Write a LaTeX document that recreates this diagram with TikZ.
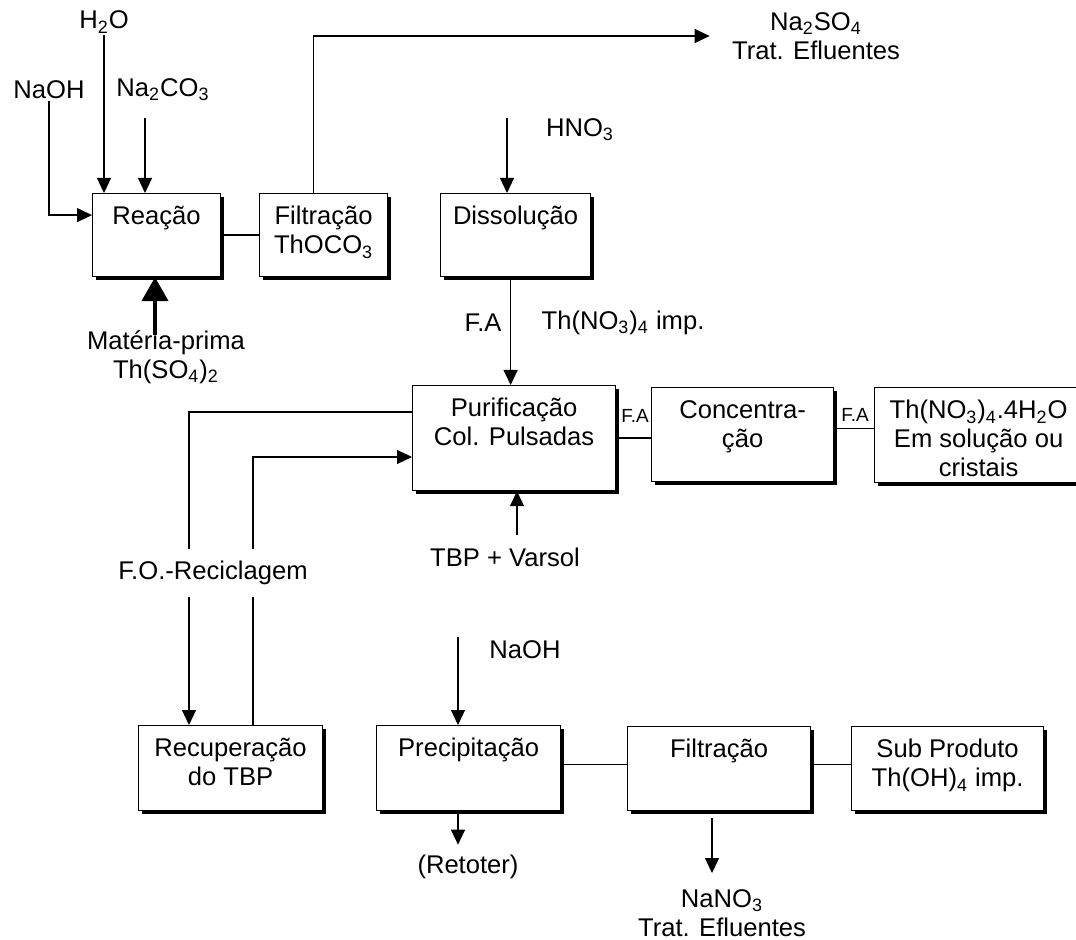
\documentclass[tikz,border=0pt]{standalone}
\usepackage{fontspec}
\setmainfont{Liberation Sans}
\usetikzlibrary{calc, positioning, arrows.meta, shadows}

\tikzset{
  txt/.style={font=\fontsize{12.8}{14.5}\selectfont, inner sep=1pt, align=center},
  small/.style={font=\fontsize{9.5}{10}\selectfont, inner sep=1pt},
  proc/.style={draw, fill=white, line width=0.6pt, inner sep=0pt, anchor=north west,
    drop shadow={shadow xshift=1.6pt, shadow yshift=-1.6pt, opacity=1, fill=black}},
  boxtxt/.style={txt, anchor=north, yshift=-5.5pt},
  flow/.style={line width=0.6pt, -{Triangle[length=7.5pt, width=7pt]}},
  bigflow/.style={line width=2.2pt, -{Triangle[length=12pt, width=13pt]}},
  link/.style={line width=0.6pt},
}

\begin{document}
\begin{tikzpicture}[x=0.5pt, y=-0.5pt]
\useasboundingbox (0,0) rectangle (1076,940);

% process boxes
\node[proc, minimum width=64pt, minimum height=41.5pt, label={[boxtxt]north:Reação}] (reacao) at (92,193) {};
\node[proc, minimum width=64pt, minimum height=41.5pt, label={[boxtxt]north:Filtração\\ThOCO\textsubscript{3}}] (filtr1) at (259,193) {};
\node[proc, minimum width=75pt, minimum height=41.5pt, label={[boxtxt]north:Dissolução}] (dissol) at (440,193) {};
\node[proc, minimum width=101.5pt, minimum height=52.5pt, label={[boxtxt]north:Purificação\\Col. Pulsadas}] (purif) at (412,385) {};
\node[proc, minimum width=91pt, minimum height=47pt, label={[boxtxt]north:Concentra-\\ção}] (concen) at (651,387) {};
\node[proc, minimum width=104pt, minimum height=47.5pt, label={[boxtxt]north:Th(NO\textsubscript{3})\textsubscript{4}.4H\textsubscript{2}O\\Em solução ou\\cristais}] (thprod) at (874,387) {};
\node[proc, minimum width=92pt, minimum height=42.5pt, label={[boxtxt]north:Recuperação\\do TBP}] (recup) at (138,725) {};
\node[proc, minimum width=92pt, minimum height=42.5pt, label={[boxtxt]north:Precipitação}] (precip) at (376,725) {};
\node[proc, minimum width=91.5pt, minimum height=42pt, label={[boxtxt]north:Filtração}] (filtr2) at (627,726) {};
\node[proc, minimum width=96pt, minimum height=42pt, label={[boxtxt]north:Sub Produto\\Th(OH)\textsubscript{4} imp.}] (subprod) at (851,726) {};

% stream labels
\node[txt] (h2o) at (104,22) {H\textsubscript{2}O};
\node[txt] (naoh1) at (49,90) {NaOH};
\node[txt] (na2co3) at (163,90) {Na\textsubscript{2}CO\textsubscript{3}};
\node[txt] (mat) at (166,357) {Matéria-prima\\Th(SO\textsubscript{4})\textsubscript{2}};
\node[txt] (efl1) at (816,36) {Na\textsubscript{2}SO\textsubscript{4}\\Trat. Efluentes};
\node[txt] (hno3) at (580,130) {HNO\textsubscript{3}};
\node[txt] (fa1) at (483,323) {F.A};
\node[txt] (thimp) at (623,323) {Th(NO\textsubscript{3})\textsubscript{4} imp.};
\node[small] (fa2) at (635,416) {F.A};
\node[small] (fa3) at (855,415) {F.A};
\node[txt] (tbp) at (505,557) {TBP + Varsol};
\node[txt, inner ysep=6pt] (reclab) at (213,573) {F.O.-Reciclagem};
\node[txt] (naoh2) at (525,650) {NaOH};
\node[txt] (retoter) at (468,867) {(Retoter)};
\node[txt] (efl2) at (722,913) {NaNO\textsubscript{3}\\Trat. Efluentes};

% free ends and bends
\coordinate (na2co3in) at (145,118);
\coordinate (hno3in) at (507,118);
\coordinate (matin) at (155,335);
\coordinate (tbpin) at (517,535);
\coordinate (naoh2in) at (458,637);
\coordinate (nano3in) at (712,818);
\coordinate (outtop) at (189,412);
\coordinate (intop) at (253,457);
\coordinate (fadown) at ($(dissol.south)+(-5,0)$);
\coordinate (concout) at ($(concen.east)+(0,-6)$);
\coordinate (precout) at ($(precip.east)+(0,-4)$);
\coordinate (filtout) at ($(filtr2.east)+(0,-4)$);

% top row
\draw[flow] (h2o.south) -- (h2o.south |- reacao.north);
\draw[flow] (naoh1.south) |- ($(reacao.west)+(0,-20)$);
\draw[flow] (na2co3in) -- (na2co3in |- reacao.north);
\draw[bigflow] (matin) -- (matin |- reacao.south);
\draw[link] (reacao) -- (filtr1);
\draw[flow] ($(filtr1.north)+(-10,0)$) |- ([xshift=-10pt]efl1.west);
\draw[flow] (hno3in) -- (hno3in |- dissol.north);

% purification row
\draw[flow] (fadown) -- (fadown |- purif.north);
\draw[flow] (tbpin) -- (tbpin |- purif.south);
\draw[link] (purif.east) -- (purif.east -| concen.west);
\draw[link] (concout) -- (concout -| thprod.west);

% solvent recycle
\draw[link] (outtop -| purif.west) -- (outtop) -- (outtop |- reclab.north);
\draw[flow] (outtop |- reclab.south) -- (outtop |- recup.north);
\draw[link] (intop |- recup.north) -- (intop |- reclab.south);
\draw[flow] (intop |- reclab.north) -- (intop) -- (intop -| purif.west);

% bottom row
\draw[flow] (naoh2in) -- (naoh2in |- precip.north);
\draw[flow, shorten >=4pt] (naoh2in |- precip.south) -- (naoh2in |- retoter.north);
\draw[link] (precout) -- (precout -| filtr2.west);
\draw[link] (filtout) -- (filtout -| subprod.west);
\draw[flow, shorten >=7pt] (nano3in) -- (nano3in |- efl2.north);

\end{tikzpicture}
\end{document}
